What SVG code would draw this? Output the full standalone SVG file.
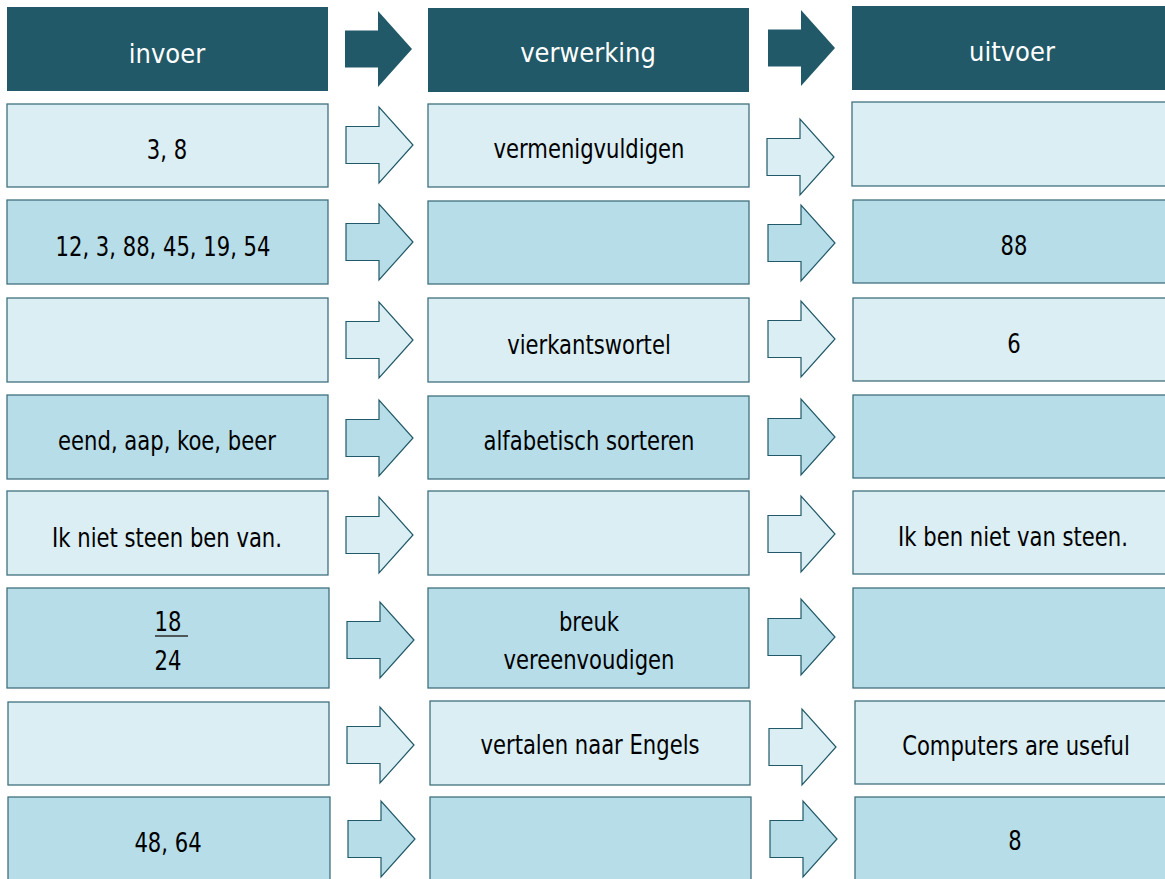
<svg xmlns="http://www.w3.org/2000/svg" width="1165" height="879" viewBox="0 0 1165 879">
<style>
.hd{fill:#215968}
.lt{fill:#daeef3;stroke:#41717e;stroke-width:1.3}
.md{fill:#b7dde8;stroke:#41717e;stroke-width:1.3}
.ht{font-family:"DejaVu Sans Condensed","DejaVu Sans",sans-serif;font-stretch:condensed;font-weight:300;font-size:27px;fill:#ffffff;text-anchor:middle}
.t{font-family:"DejaVu Sans Condensed","DejaVu Sans",sans-serif;font-stretch:condensed;font-size:27px;fill:#000000;text-anchor:middle}
.ha{fill:#215968}
.al{fill:#daeef3;stroke:#215968;stroke-width:1.2}
.am{fill:#b7dde8;stroke:#215968;stroke-width:1.2}
</style>
<defs>
<path id="arr" d="M0,-18.5 H33 V-38 L67,0 L33,38 V18.5 H0 Z"/>
</defs>
<g id="header">
<g id="h-invoer"><rect class="hd" x="7" y="7" width="321" height="84"/><text class="ht" x="167" y="63">invoer</text></g>
<g id="h-verwerking"><rect class="hd" x="428" y="8" width="321" height="84"/><text class="ht" x="588" y="62">verwerking</text></g>
<g id="h-uitvoer"><rect class="hd" x="852" y="6" width="322" height="84"/><text class="ht" x="1012" y="61">uitvoer</text></g>
</g>
<g id="row1">
<g id="r1-in"><rect class="lt" x="7" y="104" width="321" height="83"/><text class="t" transform="translate(167 159) scale(0.87 1)">3, 8</text></g>
<g id="r1-proc"><rect class="lt" x="428" y="104" width="321" height="83"/><text class="t" transform="translate(589 158) scale(0.87 1)">vermenigvuldigen</text></g>
<g id="r1-out"><rect class="lt" x="852" y="102" width="322" height="84"/></g>
</g>
<g id="row2">
<g id="r2-in"><rect class="md" x="7" y="200" width="321" height="84"/><text class="t" transform="translate(163 256) scale(0.87 1)">12, 3, 88, 45, 19, 54</text></g>
<g id="r2-proc"><rect class="md" x="428" y="201" width="321" height="83"/></g>
<g id="r2-out"><rect class="md" x="853" y="200" width="322" height="83"/><text class="t" transform="translate(1014 255) scale(0.87 1)">88</text></g>
</g>
<g id="row3">
<g id="r3-in"><rect class="lt" x="7" y="298" width="321" height="84"/></g>
<g id="r3-proc"><rect class="lt" x="428" y="298" width="321" height="84"/><text class="t" transform="translate(589 354) scale(0.87 1)">vierkantswortel</text></g>
<g id="r3-out"><rect class="lt" x="853" y="298" width="322" height="83"/><text class="t" transform="translate(1014 353) scale(0.87 1)">6</text></g>
</g>
<g id="row4">
<g id="r4-in"><rect class="md" x="7" y="395" width="321" height="84"/><text class="t" transform="translate(167 450) scale(0.87 1)">eend, aap, koe, beer</text></g>
<g id="r4-proc"><rect class="md" x="428" y="396" width="321" height="83"/><text class="t" transform="translate(589 450) scale(0.87 1)">alfabetisch sorteren</text></g>
<g id="r4-out"><rect class="md" x="853" y="395" width="322" height="83"/></g>
</g>
<g id="row5">
<g id="r5-in"><rect class="lt" x="7" y="491" width="321" height="84"/><text class="t" transform="translate(167 547) scale(0.87 1)">Ik niet steen ben van.</text></g>
<g id="r5-proc"><rect class="lt" x="428" y="491" width="321" height="84"/></g>
<g id="r5-out"><rect class="lt" x="853" y="491" width="322" height="83"/><text class="t" transform="translate(1013 546) scale(0.87 1)">Ik ben niet van steen.</text></g>
</g>
<g id="row6">
<g id="r6-in"><rect class="md" x="7" y="588" width="322" height="100"/><text class="t" transform="translate(168 631) scale(0.87 1)">18</text><line x1="155" y1="636" x2="188" y2="636" stroke="#2b2b2b" stroke-width="1.5"/><text class="t" transform="translate(168 670) scale(0.87 1)">24</text></g>
<g id="r6-proc"><rect class="md" x="428" y="588" width="321" height="100"/><text class="t" transform="translate(589 631) scale(0.87 1)">breuk</text><text class="t" transform="translate(589 669) scale(0.87 1)">vereenvoudigen</text></g>
<g id="r6-out"><rect class="md" x="853" y="588" width="322" height="100"/></g>
</g>
<g id="row7">
<g id="r7-in"><rect class="lt" x="8" y="702" width="321" height="83"/></g>
<g id="r7-proc"><rect class="lt" x="430" y="701" width="320" height="84"/><text class="t" transform="translate(590 754) scale(0.87 1)">vertalen naar Engels</text></g>
<g id="r7-out"><rect class="lt" x="855" y="701" width="320" height="83"/><text class="t" transform="translate(1016 755) scale(0.87 1)">Computers are useful</text></g>
</g>
<g id="row8">
<g id="r8-in"><rect class="md" x="8" y="797" width="322" height="90"/><text class="t" transform="translate(168 852) scale(0.87 1)">48, 64</text></g>
<g id="r8-proc"><rect class="md" x="430" y="797" width="321" height="90"/></g>
<g id="r8-out"><rect class="md" x="855" y="797" width="320" height="90"/><text class="t" transform="translate(1015 850) scale(0.87 1)">8</text></g>
</g>
<g id="connectors">
<use href="#arr" class="ha" x="345" y="49"/>
<use href="#arr" class="ha" x="768" y="48"/>
<use href="#arr" class="al" x="346" y="145"/>
<use href="#arr" class="al" x="767" y="157"/>
<use href="#arr" class="am" x="346" y="242"/>
<use href="#arr" class="am" x="768" y="243"/>
<use href="#arr" class="al" x="346" y="340"/>
<use href="#arr" class="al" x="768" y="339"/>
<use href="#arr" class="am" x="346" y="438"/>
<use href="#arr" class="am" x="768" y="437"/>
<use href="#arr" class="al" x="346" y="535"/>
<use href="#arr" class="al" x="768" y="534"/>
<use href="#arr" class="am" x="347" y="640"/>
<use href="#arr" class="am" x="768" y="637"/>
<use href="#arr" class="al" x="347" y="745"/>
<use href="#arr" class="al" x="769" y="747"/>
<use href="#arr" class="am" x="348" y="839"/>
<use href="#arr" class="am" x="770" y="839"/>
</g>
</svg>
